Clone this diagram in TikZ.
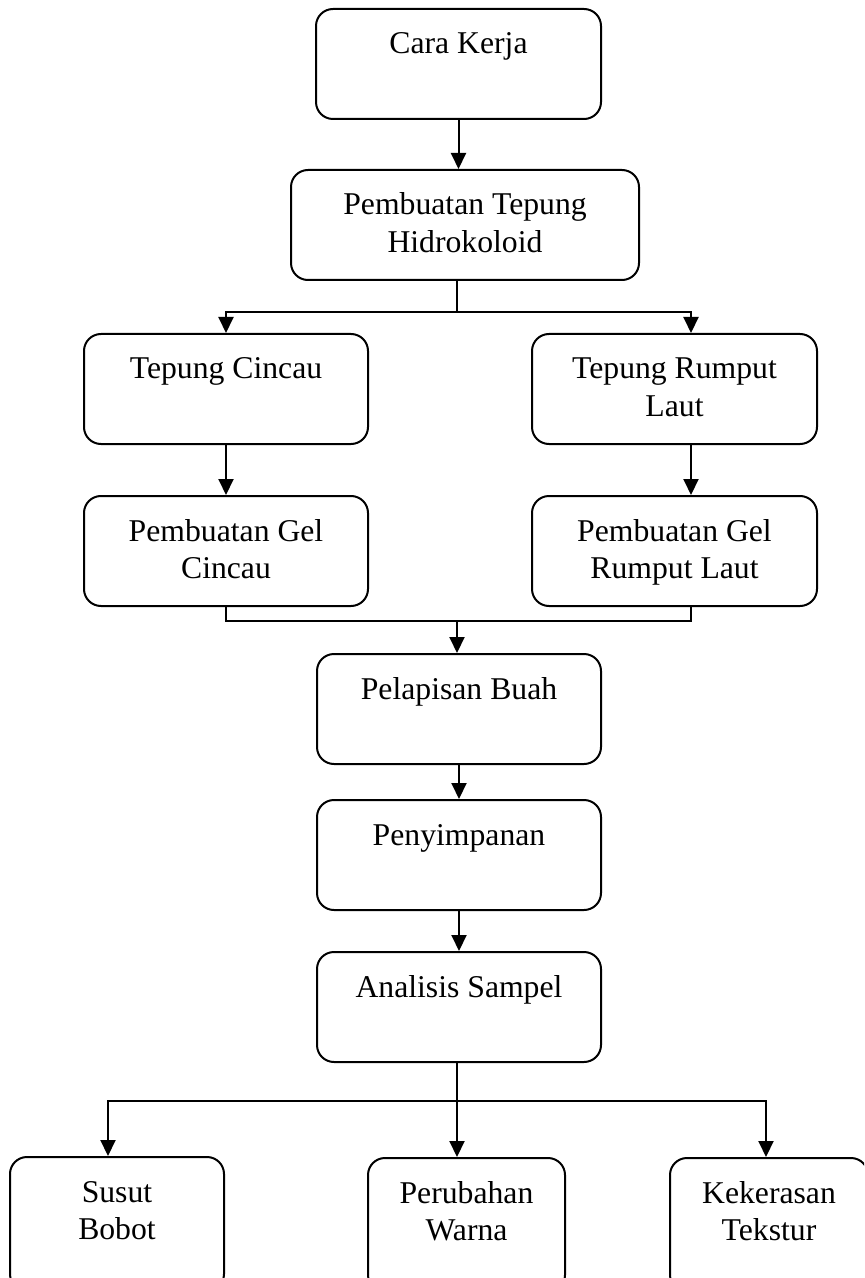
\documentclass[tikz,border=0pt]{standalone}
\usepackage{fontspec}
\setmainfont{Liberation Serif}
\usepackage{xcolor}
\usepackage{tikz}
\usetikzlibrary{calc,arrows.meta}
\definecolor{ink}{HTML}{000000}
\definecolor{paper}{HTML}{FFFFFF}
\tikzset{
  box/.style={draw=ink, line width=1pt, rounded corners=8.5pt, align=center,
    anchor=north, inner xsep=0pt, inner ysep=0pt, text height=22.5pt,
    text depth=32.5pt, font=\fontsize{15.85pt}{18.8pt}\selectfont},
  two/.style={text height=41.3pt, text depth=13.7pt},
  tall/.style={text height=41.3pt, text depth=25.7pt},
  arr/.style={draw=ink, line width=1pt, -{Triangle[length=8pt,width=7.5pt]}},
  link/.style={draw=ink, line width=0.9pt},
}

\begin{document}
\begin{tikzpicture}[x=0.5pt,y=-0.5pt]
  \useasboundingbox (0,0) rectangle (864,1278);
  \clip (0,0) rectangle (864,1278);
  \fill[paper] (0,0) rectangle (864,1278);

  \node[box,minimum width=142.5pt] (kerja) at (458.5,8) {Cara Kerja};
  \node[box,two,minimum width=174pt] (tepung) at (465,169) {Pembuatan Tepung\\Hidrokoloid};
  \node[box,minimum width=142pt] (tcincau) at (226,333) {Tepung Cincau};
  \node[box,two,minimum width=142.5pt] (trumput) at (674.5,333) {Tepung Rumput\\Laut};
  \node[box,two,minimum width=142pt] (gcincau) at (226,495) {Pembuatan Gel\\Cincau};
  \node[box,two,minimum width=142.5pt] (grumput) at (674.5,495) {Pembuatan Gel\\Rumput Laut};
  \node[box,minimum width=142pt] (lapis) at (459,653) {Pelapisan Buah};
  \node[box,minimum width=142pt] (simpan) at (459,799) {Penyimpanan};
  \node[box,minimum width=142pt] (analisis) at (459,951) {Analisis Sampel};
  \node[box,tall,minimum width=107pt] (susut) at (117,1156) {Susut\\Bobot};
  \node[box,tall,minimum width=98.5pt] (warna) at (466.5,1157) {Perubahan\\Warna};
  \node[box,tall,minimum width=99pt] (keras) at (769,1157) {Kekerasan\\Tekstur};

  \coordinate (split) at (457,312);
  \coordinate (join) at (457,621);
  \coordinate (fork) at (457,1101);

  \draw[arr] (kerja.south) -- (kerja.south |- tepung.north);

  % two kinds of flour
  \draw[link] (tepung.south -| split) -- (split);
  \draw[arr] (split) -| (tcincau.north);
  \draw[arr] (split) -| ([xshift=8.25pt]trumput.north);
  \draw[arr] (tcincau.south) -- (gcincau.north);
  \draw[arr] ([xshift=8.25pt]trumput.south) -- ([xshift=8.25pt]grumput.north);

  % both gels meet again
  \draw[link] (gcincau.south) |- (join) -| ([xshift=8.25pt]grumput.south);
  \draw[arr] (join) -- (join |- lapis.north);
  \draw[arr] (lapis.south) -- (simpan.north);
  \draw[arr] (simpan.south) -- (analisis.north);

  % analyses
  \draw[link] (analisis.south -| fork) -- (fork);
  \draw[arr] (fork) -| ([xshift=-4.5pt]susut.north);
  \draw[arr] (fork) -- (fork |- warna.north);
  \draw[arr] (fork) -| ([xshift=-1.5pt]keras.north);
\end{tikzpicture}
\end{document}
